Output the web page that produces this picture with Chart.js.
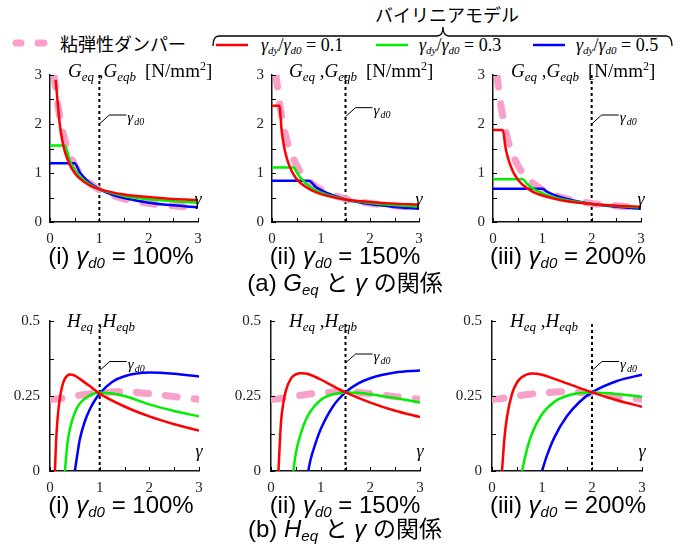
<!DOCTYPE html>
<html>
<head>
<meta charset="utf-8">
<script src="https://cdn.jsdelivr.net/npm/chart.js@4.4.1/dist/chart.umd.min.js"></script>
<style>
  body { margin: 0; background: #fff; }
  #page { position: relative; width: 690px; height: 549px; overflow: hidden; background: #fff; }
  canvas { position: absolute; }
  .t { position: absolute; white-space: nowrap; line-height: 1; color: #000; }
  .jp { font-family: "Noto Sans CJK JP", sans-serif; font-size: 18px; }
  .serif { font-family: "Liberation Serif", serif; }
  .leg { font-size: 18px; }
  .leg sub { font-size: 11px; vertical-align: -3px; line-height: 0; }
  .ttl { font-size: 19px; }
  .ttl sub { font-size: 13px; vertical-align: -4px; line-height: 0; }
  .ttl sup { font-size: 12px; vertical-align: 7px; line-height: 0; }
  .cap { font-family: "Liberation Sans", "Noto Sans CJK JP", sans-serif; font-size: 24px; transform: translateX(-50%); }
  .cap sub { font-size: 15px; vertical-align: -4px; line-height: 0; }
  .cap .jp2 { font-family: "Noto Sans CJK JP", sans-serif; font-size: 23px; }
</style>
</head>
<body>
<div id="page">
  <svg width="690" height="549" style="position:absolute;left:0;top:0">
    <path d="M213,46 Q213,36 219,36 L437,36 Q443,36 443,27 Q443,36 449,36 L666,36 Q672,36 672,46" fill="none" stroke="#000" stroke-width="1.3"/>
    <line x1="16" y1="43" x2="21" y2="43" stroke="#f8a0c8" stroke-width="7" stroke-linecap="round"/>
    <line x1="38" y1="43" x2="44" y2="43" stroke="#f8a0c8" stroke-width="7" stroke-linecap="round"/>
    <line x1="216" y1="45" x2="248" y2="45" stroke="#ff0000" stroke-width="2.5"/>
    <line x1="376" y1="45" x2="408" y2="45" stroke="#00ee00" stroke-width="2.5"/>
    <line x1="533" y1="45" x2="565" y2="45" stroke="#0000ff" stroke-width="2.5"/>
  </svg>
  <div class="t jp" style="left:447px;top:5px;transform:translateX(-50%)">バイリニアモデル</div>
  <div class="t jp" style="left:60px;top:34px">粘弾性ダンパー</div>
  <div class="t serif leg" style="left:261px;top:36px"><i>γ</i><sub><i>dy</i></sub>/<i>γ</i><sub><i>d0</i></sub> = 0.1</div>
  <div class="t serif leg" style="left:419px;top:36px"><i>γ</i><sub><i>dy</i></sub>/<i>γ</i><sub><i>d0</i></sub> = 0.3</div>
  <div class="t serif leg" style="left:576px;top:36px"><i>γ</i><sub><i>dy</i></sub>/<i>γ</i><sub><i>d0</i></sub> = 0.5</div>

  <canvas id="gA" width="228" height="195" style="left:0px;top:55px"></canvas>
  <canvas id="gB" width="227" height="195" style="left:222px;top:55px"></canvas>
  <canvas id="gC" width="228" height="195" style="left:443px;top:55px"></canvas>
  <canvas id="hA" width="229" height="198" style="left:0px;top:301px"></canvas>
  <canvas id="hB" width="229" height="198" style="left:221px;top:301px"></canvas>
  <canvas id="hC" width="230" height="198" style="left:442px;top:301px"></canvas>

  <div class="t serif ttl" style="left:68px;top:61px"><i>G</i><sub><i>eq</i></sub> ,<i>G</i><sub><i>eqb</i></sub><span style="margin-left:9px">[N/mm<sup>2</sup>]</span></div>
  <div class="t serif ttl" style="left:289px;top:61px"><i>G</i><sub><i>eq</i></sub> ,<i>G</i><sub><i>eqb</i></sub><span style="margin-left:9px">[N/mm<sup>2</sup>]</span></div>
  <div class="t serif ttl" style="left:511px;top:61px"><i>G</i><sub><i>eq</i></sub> ,<i>G</i><sub><i>eqb</i></sub><span style="margin-left:9px">[N/mm<sup>2</sup>]</span></div>
  <div class="t serif ttl" style="left:67px;top:311px"><i>H</i><sub><i>eq</i></sub> ,<i>H</i><sub><i>eqb</i></sub></div>
  <div class="t serif ttl" style="left:289px;top:311px"><i>H</i><sub><i>eq</i></sub> ,<i>H</i><sub><i>eqb</i></sub></div>
  <div class="t serif ttl" style="left:510px;top:311px"><i>H</i><sub><i>eq</i></sub> ,<i>H</i><sub><i>eqb</i></sub></div>

  <div class="t cap" style="left:121px;top:244px">(i) <i>γ</i><sub><i>d0</i></sub> = 100%</div>
  <div class="t cap" style="left:345px;top:244px">(ii) <i>γ</i><sub><i>d0</i></sub> = 150%</div>
  <div class="t cap" style="left:568px;top:244px">(iii) <i>γ</i><sub><i>d0</i></sub> = 200%</div>
  <div class="t cap" style="left:345px;top:270px">(a) <i>G</i><sub><i>eq</i></sub> <span class="jp2">と</span> <i>γ</i> <span class="jp2">の関係</span></div>
  <div class="t cap" style="left:121px;top:493px">(i) <i>γ</i><sub><i>d0</i></sub> = 100%</div>
  <div class="t cap" style="left:345px;top:493px">(ii) <i>γ</i><sub><i>d0</i></sub> = 150%</div>
  <div class="t cap" style="left:568px;top:493px">(iii) <i>γ</i><sub><i>d0</i></sub> = 200%</div>
  <div class="t cap" style="left:345px;top:516px">(b) <i>H</i><sub><i>eq</i></sub> <span class="jp2">と</span> <i>γ</i> <span class="jp2">の関係</span></div>
</div>

<script>
// tick labels
const xTickLabels = [0, 1, 2, 3];
const gTickLabels = [0, 1, 2, 3];
const hTickLabels = [0, 0.25, 0.5];
const d0Values = [1, 1.5, 2];

// viscoelastic damper (pink dashed), [gamma, value]
const pinkG = [[0.08,3.0],[0.1,2.85],[0.13,2.6],[0.16,2.38],[0.2,2.15],[0.25,1.88],[0.3,1.68],[0.4,1.38],[0.5,1.16],[0.6,1.0],[0.75,0.84],[1.0,0.66],[1.25,0.55],[1.5,0.47],[2.0,0.38],[2.5,0.33],[3.0,0.29]];
const pinkH = [[0,0.238],[0.25,0.243],[0.5,0.25],[0.75,0.256],[1.0,0.26],[1.25,0.263],[1.5,0.264],[1.75,0.262],[2.0,0.258],[2.5,0.248],[3.0,0.239]];

// bilinear model, Geq
const redG100 = [[0.115,2.9],[0.15,2.5],[0.2,1.98],[0.25,1.66],[0.3,1.44],[0.4,1.17],[0.5,1.0],[0.6,0.89],[0.8,0.75],[1.0,0.67],[1.5,0.56],[2.0,0.51],[2.5,0.47],[3.0,0.45]];
const greenG100 = [[0,1.56],[0.3,1.56],[0.4,1.25],[0.5,1.06],[0.6,0.93],[0.8,0.77],[1.0,0.67],[1.5,0.53],[2.0,0.465],[2.5,0.425],[3.0,0.395]];
const blueG100 = [[0,1.2],[0.5,1.2],[0.6,1.02],[0.7,0.9],[0.8,0.8],[1.0,0.67],[1.25,0.56],[1.5,0.49],[2.0,0.395],[2.5,0.34],[3.0,0.30]];

const redG150 = [[0,2.37],[0.15,2.37],[0.2,1.84],[0.25,1.52],[0.3,1.31],[0.4,1.04],[0.5,0.88],[0.6,0.78],[0.8,0.65],[1.0,0.57],[1.5,0.46],[2.0,0.41],[2.5,0.375],[3.0,0.355]];
const greenG150 = [[0,1.11],[0.45,1.11],[0.5,1.02],[0.6,0.88],[0.8,0.70],[1.0,0.60],[1.25,0.52],[1.5,0.46],[2.0,0.39],[2.5,0.348],[3.0,0.32]];
const blueG150 = [[0,0.84],[0.75,0.84],[0.9,0.71],[1.0,0.65],[1.25,0.54],[1.5,0.46],[2.0,0.365],[2.5,0.308],[3.0,0.27]];

const redG200 = [[0,1.88],[0.2,1.88],[0.25,1.54],[0.3,1.32],[0.4,1.04],[0.5,0.87],[0.6,0.76],[0.8,0.62],[1.0,0.54],[1.5,0.424],[2.0,0.368],[2.5,0.334],[3.0,0.312]];
const greenG200 = [[0,0.87],[0.6,0.87],[0.7,0.77],[0.8,0.69],[1.0,0.585],[1.25,0.5],[1.5,0.442],[2.0,0.37],[2.5,0.327],[3.0,0.298]];
const blueG200 = [[0,0.68],[1.0,0.68],[1.1,0.615],[1.25,0.55],[1.5,0.47],[2.0,0.37],[2.5,0.31],[3.0,0.27]];

// bilinear model, Heq
const redH100 = [[0.1,0],[0.12,0.09],[0.15,0.17],[0.2,0.245],[0.25,0.285],[0.3,0.308],[0.4,0.322],[0.5,0.318],[0.6,0.307],[0.8,0.283],[1.0,0.258],[1.5,0.215],[2.0,0.182],[2.5,0.156],[3.0,0.135]];
const greenH100 = [[0.3,0],[0.35,0.09],[0.4,0.14],[0.5,0.195],[0.6,0.225],[0.8,0.252],[1.0,0.262],[1.25,0.258],[1.5,0.25],[2.0,0.222],[2.5,0.2],[3.0,0.182]];
const blueH100 = [[0.5,0],[0.55,0.055],[0.6,0.105],[0.7,0.165],[0.8,0.205],[0.9,0.235],[1.0,0.258],[1.25,0.297],[1.5,0.316],[2.0,0.328],[2.5,0.324],[3.0,0.315]];

const redH150 = [[0.15,0],[0.2,0.16],[0.25,0.228],[0.3,0.268],[0.4,0.308],[0.5,0.322],[0.6,0.326],[0.7,0.325],[0.8,0.32],[1.0,0.305],[1.25,0.283],[1.5,0.262],[2.0,0.228],[2.5,0.201],[3.0,0.18]];
const greenH150 = [[0.45,0],[0.5,0.06],[0.6,0.125],[0.7,0.17],[0.8,0.2],[1.0,0.237],[1.25,0.256],[1.5,0.262],[1.75,0.261],[2.0,0.256],[2.5,0.243],[3.0,0.228]];
const blueH150 = [[0.75,0],[0.8,0.04],[0.9,0.094],[1.0,0.139],[1.25,0.216],[1.5,0.262],[1.75,0.291],[2.0,0.309],[2.5,0.328],[3.0,0.335]];

const redH200 = [[0.2,0],[0.25,0.111],[0.3,0.18],[0.4,0.257],[0.5,0.295],[0.6,0.313],[0.8,0.325],[1.0,0.321],[1.25,0.307],[1.5,0.292],[2.0,0.262],[2.5,0.236],[3.0,0.214]];
const greenH200 = [[0.6,0],[0.7,0.073],[0.8,0.125],[1.0,0.189],[1.25,0.231],[1.5,0.251],[1.75,0.26],[2.0,0.262],[2.5,0.257],[3.0,0.247]];
const blueH200 = [[1.0,0],[1.1,0.052],[1.25,0.113],[1.5,0.183],[1.75,0.23],[2.0,0.262],[2.5,0.3],[3.0,0.321]];

const RED = '#ff0000', GREEN = '#00ee00', BLUE = '#0000ff', PINK = '#f8a0c8';

// dotted gamma_d0 line, leader label, inward ticks, axis symbol
const refMarks = {
  id: 'refMarks',
  beforeDatasetsDraw(chart, args, o) {
    const { ctx, chartArea: a, scales: { x } } = chart;
    const px = x.getPixelForValue(o.d0);
    ctx.save();
    ctx.strokeStyle = '#000';
    ctx.lineWidth = 2;
    ctx.setLineDash([3, 3]);
    ctx.beginPath();
    ctx.moveTo(px, a.bottom);
    ctx.lineTo(px, a.top);
    ctx.stroke();
    ctx.restore();
  },
  afterDraw(chart, args, o) {
    const { ctx, chartArea: a, scales: { x, y } } = chart;
    ctx.save();
    ctx.strokeStyle = '#000';
    ctx.lineWidth = 1;
    ctx.beginPath();
    x.ticks.forEach(t => {
      const p = Math.round(x.getPixelForValue(t.value)) + 0.5;
      ctx.moveTo(p, a.bottom);
      ctx.lineTo(p, a.bottom - 4);
    });
    y.ticks.forEach(t => {
      const p = Math.round(y.getPixelForValue(t.value)) + 0.5;
      ctx.moveTo(a.left, p);
      ctx.lineTo(a.left + 4, p);
    });
    ctx.stroke();

    // leader to the gamma_d0 label
    const px = x.getPixelForValue(o.d0);
    const py = y.getPixelForValue(o.labelAt);
    ctx.beginPath();
    ctx.moveTo(px, py);
    ctx.lineTo(px + 10, py - 9);
    ctx.lineTo(px + 27, py - 9);
    ctx.stroke();
    ctx.fillStyle = '#000';
    ctx.textBaseline = 'alphabetic';
    ctx.font = 'italic 15px "Liberation Serif"';
    ctx.fillText('γ', px + 28, py - 2);
    ctx.font = 'italic 10px "Liberation Serif"';
    ctx.fillText('d0', px + 35, py + 1);

    // axis symbol
    ctx.font = 'italic 18px "Liberation Serif"';
    ctx.textAlign = 'center';
    ctx.fillText('γ', a.right, a.bottom - o.symLift);
    ctx.restore();
  }
};

function pts(arr) {
  return arr.map(p => ({ x: p[0], y: p[1] }));
}

function line(arr, color) {
  return {
    data: pts(arr),
    borderColor: color,
    borderWidth: 2.5,
    pointRadius: 0,
    cubicInterpolationMode: 'monotone',
    fill: false
  };
}

function dashed(arr) {
  return {
    data: pts(arr),
    borderColor: PINK,
    borderWidth: 7,
    borderDash: [12, 17],
    borderCapStyle: 'round',
    pointRadius: 0,
    cubicInterpolationMode: 'monotone',
    fill: false
  };
}

function makeChart(id, kind, d0, red, green, blue, labelAt) {
  const isG = kind === 'G';
  const yLabels = isG ? gTickLabels : hTickLabels;
  return new Chart(document.getElementById(id), {
    type: 'line',
    data: {
      datasets: [
        line(red, RED),
        line(green, GREEN),
        line(blue, BLUE),
        dashed(isG ? pinkG : pinkH)
      ]
    },
    options: {
      responsive: false,
      animation: false,
      devicePixelRatio: 1,
      layout: { padding: { left: 0, right: 30, top: 20, bottom: 0 } },
      plugins: {
        legend: { display: false },
        tooltip: { enabled: false },
        refMarks: { d0: d0, labelAt: labelAt, symLift: isG ? 17 : 14 }
      },
      scales: {
        x: {
          type: 'linear',
          min: 0,
          max: 3,
          afterFit: s => { s.height = 28; },
          grid: { display: false, drawTicks: false },
          border: { display: true, color: '#111', width: 1.5 },
          ticks: {
            stepSize: 0.5,
            autoSkip: false,
            maxRotation: 0,
            padding: 8,
            color: '#222',
            font: { family: 'Liberation Serif', size: 15 },
            callback: v => xTickLabels.includes(v) ? String(v) : ''
          }
        },
        y: {
          min: 0,
          max: isG ? 3 : 0.5,
          afterFit: s => { s.width = 50; },
          grid: { display: false, drawTicks: false },
          border: { display: true, color: '#111', width: 1.5 },
          ticks: {
            stepSize: isG ? 0.5 : 0.125,
            autoSkip: false,
            padding: isG ? 8 : 10,
            color: '#222',
            font: { family: 'Liberation Serif', size: 15 },
            callback: v => yLabels.includes(v) ? String(v) : ''
          }
        }
      }
    },
    plugins: [refMarks]
  });
}

makeChart('gA', 'G', d0Values[0], redG100, greenG100, blueG100, 2.0);
makeChart('gB', 'G', d0Values[1], redG150, greenG150, blueG150, 2.15);
makeChart('gC', 'G', d0Values[2], redG200, greenG200, blueG200, 2.0);
makeChart('hA', 'H', d0Values[0], redH100, greenH100, blueH100, 0.335);
makeChart('hB', 'H', d0Values[1], redH150, greenH150, blueH150, 0.36);
makeChart('hC', 'H', d0Values[2], redH200, greenH200, blueH200, 0.335);
</script>
</body>
</html>
